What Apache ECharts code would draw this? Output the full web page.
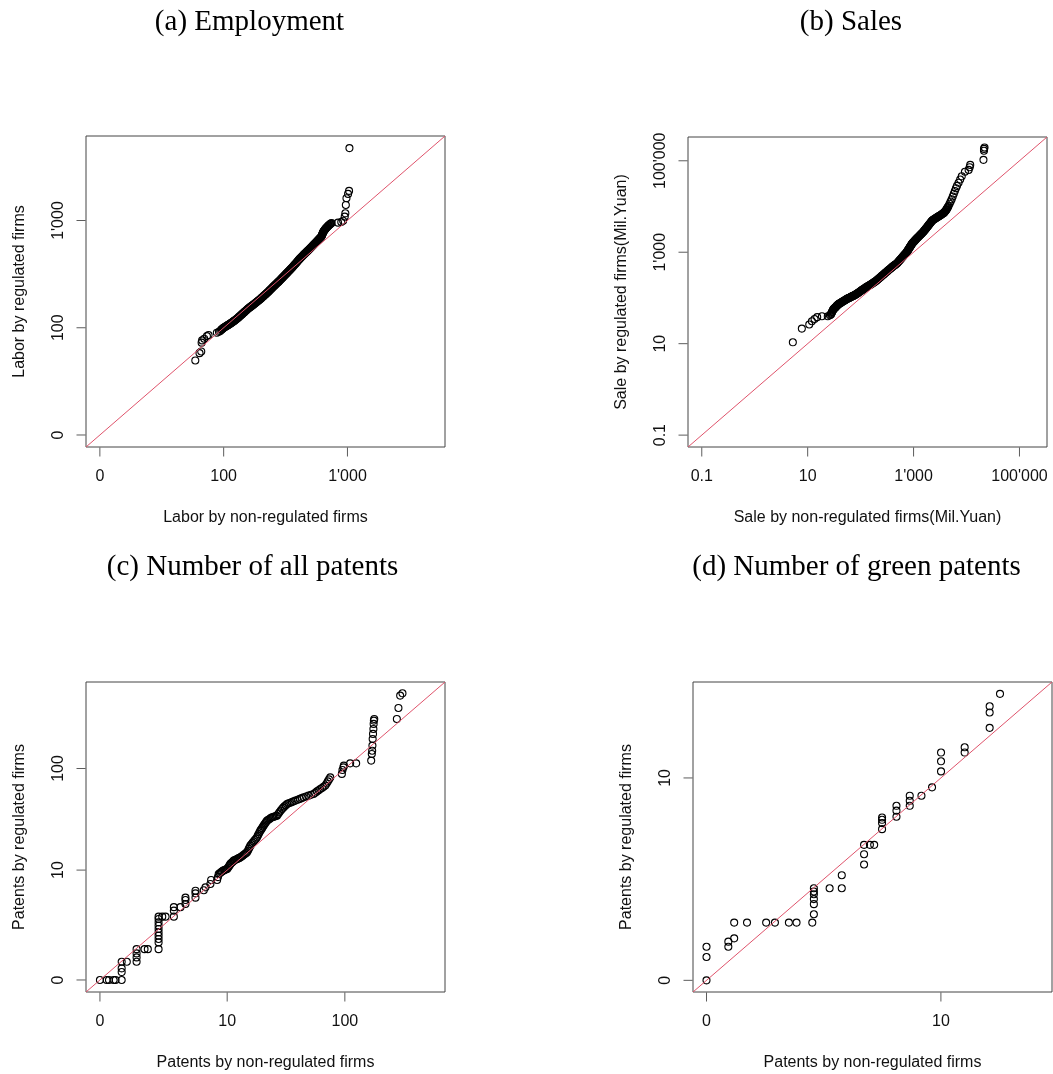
<!DOCTYPE html>
<html><head><meta charset="utf-8">
<script src="https://cdn.jsdelivr.net/npm/echarts@6/dist/echarts.min.js"></script>
<style>html,body{margin:0;padding:0;background:#fff}#c{width:1053px;height:1074px}</style>
</head><body><div id="c"></div>
<script>
// ---------- Panel titles and axis names ----------
const panelTitles = ['(a) Employment', '(b) Sales', '(c) Number of all patents', '(d) Number of green patents'];
const xNames = ['Labor by non-regulated firms', 'Sale by non-regulated firms(Mil.Yuan)', 'Patents by non-regulated firms', 'Patents by non-regulated firms'];
const yNames = ['Labor by regulated firms', 'Sale by regulated firms(Mil.Yuan)', 'Patents by regulated firms', 'Patents by regulated firms'];

// ---------- Tick positions (axis units) and labels ----------
const laborTickPos = [0, 1, 2];                 // (a) evenly spaced log ticks
const laborTickLabels = ["0", "100", "1'000"];
const salesTickPos = [-1, 1, 3, 5];             // (b) log10(sales)
const salesTickLabels = ["0.1", "10", "1'000", "100'000"];
const allPatTickValues = [0, 10, 100];          // (c) log10(1 + patents)
const greenTickValues = [0, 10];                // (d) log10(1 + patents)

// ---------- QQ quantile pairs [non-regulated, regulated], in axis units ----------
// (a) employment (log axis units)
const laborQQ = [
 [0.771,0.695],[0.805,0.763],[0.819,0.779],[0.822,0.861],[0.826,0.882],[0.843,0.898],[0.865,0.922],[0.878,0.932],[0.945,0.954],[0.962,0.962],[0.972,0.969],
 [0.980,0.980],[0.985,0.985],[0.989,0.989],[0.994,0.994],[0.999,0.999],[1.004,1.002],[1.009,1.006],[1.014,1.010],[1.019,1.013],[1.024,1.017],
 [1.029,1.021],[1.034,1.024],[1.039,1.028],[1.044,1.031],[1.049,1.035],[1.054,1.039],[1.059,1.043],[1.064,1.047],[1.069,1.051],[1.074,1.055],
 [1.079,1.059],[1.084,1.064],[1.089,1.068],[1.094,1.072],[1.099,1.076],[1.104,1.081],[1.109,1.086],[1.114,1.091],[1.119,1.096],[1.124,1.101],
 [1.129,1.107],[1.134,1.112],[1.139,1.117],[1.144,1.122],[1.149,1.127],[1.154,1.132],[1.159,1.137],[1.164,1.143],[1.169,1.148],[1.174,1.153],
 [1.179,1.158],[1.184,1.163],[1.189,1.169],[1.194,1.174],[1.199,1.179],[1.204,1.183],[1.209,1.188],[1.214,1.192],[1.219,1.197],[1.224,1.201],
 [1.229,1.206],[1.234,1.210],[1.239,1.214],[1.244,1.219],[1.249,1.223],[1.254,1.228],[1.259,1.232],[1.264,1.237],[1.269,1.242],[1.274,1.247],
 [1.279,1.251],[1.284,1.256],[1.289,1.261],[1.294,1.266],[1.299,1.271],[1.304,1.276],[1.309,1.281],[1.314,1.286],[1.319,1.292],[1.324,1.297],
 [1.329,1.302],[1.334,1.307],[1.339,1.313],[1.344,1.318],[1.349,1.323],[1.354,1.328],[1.359,1.334],[1.364,1.340],[1.369,1.346],[1.374,1.352],
 [1.379,1.357],[1.384,1.363],[1.389,1.369],[1.394,1.375],[1.399,1.381],[1.404,1.386],[1.409,1.392],[1.414,1.397],[1.419,1.403],[1.424,1.408],
 [1.429,1.414],[1.434,1.419],[1.439,1.425],[1.444,1.430],[1.449,1.436],[1.454,1.442],[1.459,1.448],[1.464,1.454],[1.469,1.460],[1.474,1.466],
 [1.479,1.472],[1.484,1.478],[1.489,1.484],[1.494,1.490],[1.499,1.496],[1.504,1.502],[1.509,1.508],[1.514,1.514],[1.519,1.520],[1.524,1.526],
 [1.529,1.532],[1.534,1.538],[1.539,1.544],[1.544,1.550],[1.549,1.556],[1.554,1.561],[1.559,1.568],[1.564,1.575],[1.569,1.582],[1.574,1.589],
 [1.579,1.595],[1.584,1.602],[1.589,1.609],[1.594,1.616],[1.599,1.623],[1.604,1.630],[1.609,1.636],[1.614,1.642],[1.619,1.648],[1.624,1.654],
 [1.629,1.660],[1.634,1.666],[1.639,1.672],[1.644,1.678],[1.649,1.684],[1.654,1.689],[1.659,1.695],[1.664,1.701],[1.669,1.706],[1.674,1.712],
 [1.679,1.718],[1.684,1.723],[1.689,1.729],[1.694,1.735],[1.699,1.741],[1.704,1.746],[1.709,1.752],[1.714,1.758],[1.719,1.764],[1.724,1.770],
 [1.729,1.776],[1.734,1.782],[1.739,1.788],[1.744,1.794],[1.749,1.800],[1.754,1.806],[1.759,1.812],[1.764,1.818],[1.769,1.825],[1.774,1.831],
 [1.779,1.837],[1.784,1.843],[1.789,1.849],[1.792,1.856],[1.794,1.862],[1.796,1.868],[1.798,1.874],[1.800,1.880],[1.802,1.885],[1.804,1.890],
 [1.806,1.895],[1.808,1.899],[1.811,1.904],[1.814,1.909],[1.817,1.914],[1.820,1.918],[1.823,1.923],[1.826,1.927],[1.830,1.932],[1.834,1.937],
 [1.838,1.942],[1.842,1.947],[1.846,1.952],[1.850,1.956],[1.855,1.961],[1.860,1.966],[1.866,1.971],[1.872,1.976],
 [1.924,1.980],[1.950,1.986],[1.965,1.998],[1.978,2.036],[1.983,2.067],[1.987,2.145],[1.992,2.208],[2.005,2.248],[2.013,2.276],[2.016,2.675]
];
// (b) sales, log10(Mil. Yuan)
const salesQQ = [
 [0.72,1.03],[0.89,1.33],[1.03,1.42],[1.08,1.49],[1.13,1.54],[1.18,1.58],[1.27,1.60],[1.38,1.60],[1.42,1.62],
 [1.440,1.640],[1.447,1.658],[1.454,1.675],[1.460,1.690],[1.467,1.707],[1.474,1.725],[1.480,1.740],[1.487,1.750],[1.494,1.760],[1.500,1.770],
 [1.508,1.778],[1.516,1.786],[1.523,1.793],[1.530,1.800],[1.538,1.811],[1.546,1.822],[1.553,1.831],[1.560,1.840],[1.568,1.848],[1.576,1.856],
 [1.583,1.863],[1.590,1.870],[1.600,1.877],[1.610,1.883],[1.620,1.889],[1.630,1.897],[1.640,1.904],[1.650,1.912],[1.660,1.920],[1.670,1.927],
 [1.680,1.934],[1.690,1.940],[1.700,1.948],[1.710,1.955],[1.720,1.963],[1.730,1.970],[1.740,1.977],[1.750,1.983],[1.760,1.990],[1.770,1.995],
 [1.780,2.000],[1.790,2.005],[1.800,2.010],[1.810,2.017],[1.820,2.023],[1.830,2.030],[1.840,2.035],[1.850,2.040],[1.860,2.045],[1.870,2.050],
 [1.880,2.057],[1.890,2.063],[1.900,2.070],[1.910,2.078],[1.920,2.085],[1.930,2.093],[1.940,2.100],[1.952,2.110],[1.964,2.120],[1.976,2.130],
 [1.988,2.140],[2.000,2.150],[2.012,2.160],[2.024,2.170],[2.036,2.179],[2.048,2.188],[2.060,2.198],[2.072,2.208],[2.084,2.217],[2.096,2.227],
 [2.108,2.236],[2.120,2.244],[2.132,2.252],[2.144,2.261],[2.156,2.269],[2.168,2.278],[2.180,2.286],[2.192,2.294],[2.204,2.303],[2.216,2.313],
 [2.228,2.322],[2.240,2.332],[2.252,2.342],[2.264,2.351],[2.276,2.361],[2.288,2.370],[2.300,2.380],[2.311,2.391],[2.322,2.402],[2.333,2.413],
 [2.344,2.424],[2.355,2.435],[2.366,2.446],[2.377,2.457],[2.390,2.471],[2.402,2.483],[2.414,2.495],[2.426,2.507],[2.438,2.519],[2.450,2.531],
 [2.462,2.543],[2.474,2.555],[2.486,2.567],[2.498,2.579],[2.510,2.591],[2.522,2.603],[2.534,2.615],[2.546,2.627],[2.558,2.639],[2.570,2.651],
 [2.582,2.663],[2.594,2.674],[2.606,2.685],[2.618,2.696],[2.630,2.706],[2.642,2.717],[2.654,2.728],[2.666,2.738],[2.678,2.749],[2.690,2.760],
 [2.700,2.774],[2.710,2.787],[2.720,2.800],[2.730,2.814],[2.740,2.827],[2.750,2.840],[2.760,2.853],[2.770,2.867],[2.780,2.880],[2.790,2.893],
 [2.800,2.907],[2.810,2.920],[2.820,2.933],[2.830,2.947],[2.840,2.960],[2.850,2.973],[2.860,2.987],[2.870,3.000],[2.877,3.013],[2.884,3.026],
 [2.891,3.038],[2.898,3.051],[2.905,3.064],[2.912,3.076],[2.920,3.090],[2.926,3.101],[2.932,3.112],[2.938,3.123],[2.944,3.134],[2.950,3.145],
 [2.956,3.156],[2.962,3.167],[2.968,3.178],[2.974,3.189],[2.980,3.200],[2.990,3.213],[3.000,3.225],[3.010,3.237],[3.020,3.250],[3.030,3.263],
 [3.040,3.275],[3.050,3.288],[3.060,3.300],[3.072,3.314],[3.084,3.328],[3.096,3.342],[3.108,3.356],[3.120,3.370],[3.132,3.384],[3.144,3.398],
 [3.156,3.412],[3.168,3.426],[3.180,3.440],[3.189,3.453],[3.198,3.466],[3.207,3.479],[3.216,3.492],[3.225,3.505],[3.234,3.518],[3.243,3.531],
 [3.252,3.544],[3.261,3.557],[3.270,3.570],[3.279,3.583],[3.288,3.597],[3.297,3.610],[3.306,3.623],[3.315,3.637],[3.324,3.650],[3.333,3.663],
 [3.342,3.677],[3.351,3.690],[3.360,3.698],[3.372,3.708],[3.384,3.718],[3.396,3.728],[3.408,3.737],[3.420,3.745],[3.432,3.754],[3.444,3.763],
 [3.456,3.772],[3.468,3.780],[3.480,3.789],[3.492,3.798],[3.504,3.806],[3.516,3.815],[3.528,3.825],[3.540,3.835],[3.552,3.845],[3.564,3.855],
 [3.576,3.866],[3.586,3.880],[3.596,3.894],[3.606,3.908],[3.616,3.922],[3.624,3.937],[3.632,3.955],[3.640,3.972],[3.650,3.990],[3.660,4.010],
 [3.68,4.06],[3.70,4.11],[3.72,4.16],[3.74,4.22],[3.76,4.28],[3.78,4.34],[3.80,4.40],[3.82,4.45],[3.85,4.52],[3.88,4.59],
 [3.91,4.66],[3.97,4.76],[4.04,4.80],[4.06,4.86],[4.07,4.91],[4.32,5.02],[4.33,5.22],[4.33,5.26],[4.34,5.29]
];
// (c) all patents, log10(1 + count)
const allPatQQ = [
 [0,0],[0.055,0],[0.074,0],[0.112,0],[0.128,0],[0.178,0],[0.178,0.075],[0.178,0.11],[0.178,0.173],[0.22,0.173],
 [0.30,0.173],[0.30,0.214],[0.30,0.252],[0.30,0.292],[0.365,0.292],[0.392,0.292],[0.48,0.292],[0.48,0.356],[0.48,0.389],[0.48,0.42],
 [0.48,0.451],[0.48,0.483],[0.48,0.515],[0.48,0.546],[0.48,0.578],[0.48,0.60],[0.51,0.60],[0.537,0.60],[0.605,0.60],[0.605,0.657],
 [0.605,0.69],[0.659,0.69],[0.70,0.72],[0.70,0.758],[0.70,0.78],[0.782,0.78],[0.782,0.821],[0.782,0.846],[0.85,0.85],[0.864,0.878],
 [0.904,0.91],[0.91,0.948],[0.959,0.948],[0.966,0.975],[0.972,1.005],[0.981,1.012],[0.990,1.020],[0.999,1.028],[1.008,1.036],[1.017,1.040],
 [1.025,1.045],[1.033,1.049],[1.041,1.052],[1.048,1.064],[1.055,1.076],[1.062,1.088],[1.068,1.100],[1.075,1.108],[1.082,1.115],[1.089,1.123],
 [1.095,1.131],[1.104,1.136],[1.114,1.142],[1.123,1.147],[1.132,1.152],[1.141,1.157],[1.150,1.162],[1.159,1.170],[1.168,1.178],[1.177,1.186],
 [1.186,1.194],[1.195,1.202],[1.204,1.210],[1.211,1.225],[1.218,1.242],[1.225,1.258],[1.231,1.273],[1.240,1.286],[1.249,1.300],[1.258,1.313],
 [1.267,1.326],[1.277,1.339],[1.286,1.352],[1.292,1.368],[1.299,1.384],[1.306,1.400],[1.313,1.415],[1.320,1.427],[1.327,1.439],[1.334,1.451],
 [1.340,1.463],[1.347,1.475],[1.354,1.487],[1.361,1.499],[1.368,1.510],[1.378,1.518],[1.388,1.526],[1.398,1.534],[1.408,1.541],[1.418,1.545],
 [1.428,1.549],[1.439,1.553],[1.449,1.557],[1.459,1.573],[1.469,1.589],[1.480,1.605],[1.490,1.621],[1.500,1.633],[1.510,1.645],[1.521,1.656],
 [1.531,1.668],[1.544,1.674],[1.558,1.680],[1.571,1.687],[1.585,1.693],[1.600,1.700],[1.618,1.708],[1.636,1.716],[1.652,1.724],[1.667,1.731],
 [1.687,1.739],[1.707,1.747],[1.728,1.755],[1.748,1.763],[1.762,1.775],[1.776,1.787],[1.790,1.798],[1.803,1.810],[1.817,1.820],[1.830,1.831],
 [1.844,1.842],[1.855,1.862],[1.865,1.882],[1.875,1.901],[1.885,1.920],
 [1.98,1.953],[1.985,1.99],[1.993,2.015],[1.996,2.031],[2.048,2.053],[2.097,2.053],[2.22,2.079],[2.225,2.142],[2.228,2.173],
 [2.23,2.221],[2.232,2.284],[2.235,2.332],[2.238,2.379],[2.24,2.427],[2.242,2.458],[2.245,2.474],[2.43,2.474],[2.443,2.578],[2.457,2.695],
 [2.476,2.717]
];
// (d) green patents, log10(1 + count)
const greenPatQQ = [
 [0,0],[0,0.12],[0,0.173],[0.097,0.173],[0.097,0.199],[0.123,0.216],[0.123,0.297],[0.18,0.297],[0.265,0.297],[0.304,0.297],
 [0.366,0.297],[0.40,0.297],[0.47,0.297],[0.477,0.34],[0.477,0.392],[0.477,0.418],[0.477,0.443],[0.477,0.457],[0.477,0.474],[0.547,0.474],
 [0.601,0.474],[0.601,0.541],[0.70,0.596],[0.70,0.649],[0.70,0.697],[0.726,0.697],[0.745,0.697],[0.78,0.778],[0.78,0.809],[0.78,0.826],
 [0.78,0.838],[0.844,0.842],[0.844,0.873],[0.844,0.898],[0.903,0.898],[0.903,0.924],[0.903,0.95],[0.955,0.95],[1.002,0.993],[1.042,1.075],
 [1.042,1.127],[1.042,1.172],[1.147,1.172],[1.147,1.199],[1.258,1.299],[1.258,1.378],[1.258,1.41],[1.304,1.474]
];

// ---------- Build chart ----------
const log1p10 = v => Math.log10(1 + v);
const panels = [
  { grid:{left:86, top:136, width:359, height:311}, min:-0.112, max:2.788, data:laborQQ,
    ticks:laborTickPos, labels:laborTickLabels, titleX:249.5, titleY:22.5 },
  { grid:{left:688, top:137, width:359, height:310}, min:-1.26, max:5.52, data:salesQQ,
    ticks:salesTickPos, labels:salesTickLabels, titleX:851, titleY:22.5 },
  { grid:{left:86, top:682, width:359, height:310}, min:-0.114, max:2.824, data:allPatQQ,
    ticks:allPatTickValues.map(log1p10), labels:allPatTickValues.map(String), titleX:252.5, titleY:567 },
  { grid:{left:693, top:682, width:359, height:310}, min:-0.06, max:1.535, data:greenPatQQ,
    ticks:greenTickValues.map(log1p10), labels:greenTickValues.map(String), titleX:856.5, titleY:567 }
];

const txt = {fontSize:16, fontFamily:'Liberation Sans', color:'#111'};
const TICK_LEN = 9;
const grids = [], xAxes = [], yAxes = [], series = [], graphics = [];
panels.forEach((p, i) => {
  grids.push(Object.assign({show:true, borderColor:'#444', borderWidth:1, backgroundColor:'transparent', containLabel:false}, p.grid));
  const fmt = v => { const k = p.ticks.findIndex(t => Math.abs(t - v) < 1e-6); return k >= 0 ? p.labels[k] : ''; };
  const common = {
    gridIndex:i, type:'value', min:p.min, max:p.max,
    axisLine:{show:false, onZero:false}, splitLine:{show:false},
    axisTick:{show:false},
    nameLocation:'middle', nameTextStyle:Object.assign({}, txt)
  };
  xAxes.push(Object.assign({}, common, {
    position:'bottom', name:xNames[i], nameGap:63,
    axisLabel:Object.assign({customValues:p.ticks, formatter:fmt, margin:22}, txt)
  }));
  yAxes.push(Object.assign({}, common, {
    position:'left', name:yNames[i], nameGap:58,
    axisLabel:Object.assign({customValues:p.ticks, formatter:fmt, margin:19, rotate:90}, txt)
  }));
  // QQ points
  series.push({
    type:'scatter', xAxisIndex:i, yAxisIndex:i, data:p.data, symbol:'circle', symbolSize:7,
    itemStyle:{color:'rgba(0,0,0,0)', borderColor:'#000', borderWidth:1.1, opacity:1},
    silent:true, z:2, large:false
  });
  // 45-degree reference line
  series.push({
    type:'line', xAxisIndex:i, yAxisIndex:i, data:[[p.min, p.min],[p.max, p.max]],
    showSymbol:false, symbol:'none', lineStyle:{color:'#DF536B', width:1}, silent:true, z:3
  });
  // outward tick marks on x axis (placed at the tick values, on the lower plot edge)
  series.push({
    type:'scatter', xAxisIndex:i, yAxisIndex:i, data:p.ticks.map(t => [t, p.min]),
    symbol:'rect', symbolSize:[1, TICK_LEN], symbolOffset:[0, TICK_LEN/2 + 0.5],
    itemStyle:{color:'#333'}, clip:false, silent:true, z:1
  });
  // outward tick marks on y axis
  series.push({
    type:'scatter', xAxisIndex:i, yAxisIndex:i, data:p.ticks.map(t => [p.min, t]),
    symbol:'rect', symbolSize:[TICK_LEN, 1], symbolOffset:[-(TICK_LEN/2 + 0.5), 0],
    itemStyle:{color:'#333'}, clip:false, silent:true, z:1
  });
  graphics.push({
    type:'text', x:p.titleX, y:p.titleY,
    style:{text:panelTitles[i], align:'center', verticalAlign:'middle', fontSize:29, fontFamily:'Liberation Serif', fill:'#000'}
  });
});

const chart = echarts.init(document.getElementById('c'), null, {renderer:'canvas'});
chart.setOption({
  animation:false, backgroundColor:'#fff',
  grid:grids, xAxis:xAxes, yAxis:yAxes, series:series, graphic:graphics
});
</script></body></html>
